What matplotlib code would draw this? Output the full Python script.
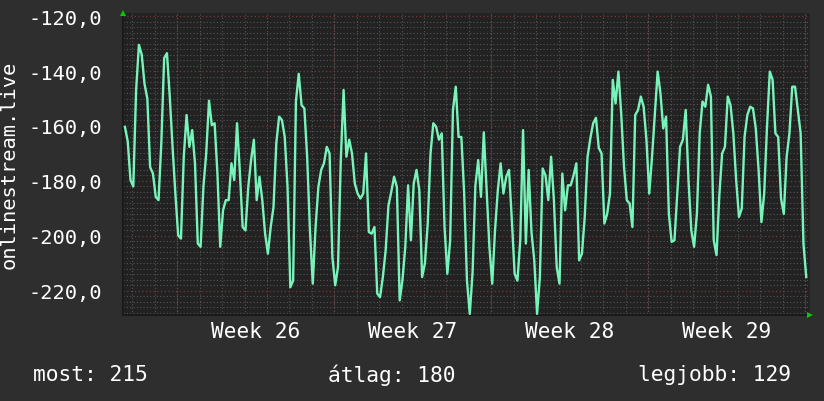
import numpy as np
import matplotlib
matplotlib.use("Agg")
import matplotlib.pyplot as plt
from matplotlib.ticker import MultipleLocator, FixedLocator

# samples every 3 hours, hours counted from the start of week 26
start_hour = -56
step_hours = 3
values = [
    -160.3, -165.5, -179.7, -182.0, -147.0, -130.5, -134.0, -144.7, -150.0, -175.0,
    -177.3, -185.8, -187.0, -166.0, -135.3, -133.5, -149.3, -167.6, -184.6, -199.8,
    -201.0, -171.2, -156.0, -167.6, -161.5, -173.6, -202.8, -204.0, -182.2, -170.0,
    -150.8, -159.7, -159.0, -177.3, -204.0, -190.7, -187.0, -187.0, -173.6, -179.7,
    -159.0, -176.7, -196.8, -198.0, -182.2, -172.4, -165.0, -187.0, -178.5, -187.0,
    -199.2, -206.5, -196.8, -189.5, -166.3, -156.6, -157.8, -163.9, -182.2, -218.7,
    -216.3, -151.0, -141.0, -152.4, -153.6, -171.2, -198.0, -217.4, -196.8, -182.2,
    -176.0, -173.6, -167.6, -170.0, -207.7, -218.0, -211.4, -172.4, -146.9, -171.2,
    -165.0, -170.0, -181.0, -184.6, -186.4, -184.6, -170.0, -198.6, -199.2, -196.8,
    -221.0, -222.3, -215.0, -205.3, -188.9, -184.0, -178.5, -182.2, -223.5, -216.0,
    -204.0, -181.6, -201.6, -181.0, -176.0, -183.4, -215.0, -210.0, -195.5, -170.0,
    -159.0, -160.3, -165.0, -162.7, -196.8, -213.8, -201.6, -154.2, -145.7, -164.0,
    -164.0, -184.6, -216.3, -228.4, -213.2, -181.7, -172.4, -185.8, -162.3, -182.8,
    -204.0, -217.4, -198.0, -183.4, -173.6, -184.6, -178.5, -176.0, -194.3, -213.8,
    -216.3, -201.6, -161.5, -202.8, -176.0, -198.6, -208.9, -228.4, -215.0, -175.5,
    -178.0, -187.0, -171.2, -187.0, -211.4, -217.4, -177.3, -190.7, -181.6, -181.6,
    -178.0, -173.6, -208.9, -206.5, -193.1, -171.2, -164.5, -159.0, -157.0, -168.0,
    -170.0, -195.5, -192.0, -184.6, -143.2, -151.8, -140.2, -155.4, -174.9, -187.0,
    -188.2, -196.8, -156.0, -154.2, -149.3, -153.0, -165.0, -184.6, -171.2, -155.4,
    -140.2, -148.1, -160.9, -156.6, -192.0, -202.2, -201.6, -184.6, -167.6, -165.0,
    -154.2, -179.7, -198.0, -204.0, -192.0, -162.6, -151.1, -153.0, -145.0, -149.3,
    -201.6, -207.0, -185.2, -170.0, -167.6, -149.3, -152.4, -162.7, -179.7, -193.1,
    -190.1, -163.9, -156.0, -153.0, -153.6, -160.9, -176.0, -195.0, -184.6, -160.3,
    -140.2, -143.2, -162.7, -164.0, -186.4, -192.0, -171.2, -162.7, -145.7, -145.7,
    -154.2, -162.7, -202.8, -215.0,
]
hours = start_hour + step_hours * np.arange(len(values))

week_starts = [0, 168, 336, 504, 672]
week_labels = ["Week 26", "Week 27", "Week 28", "Week 29"]
week_label_pos = [84, 252, 420, 588]
y_ticks = [-120, -140, -160, -180, -200, -220]

series_name = "onlinestream.live"
summary = [("most: 215", 0.040, "left"), ("átlag: 180", 0.476, "center"),
           ("legjobb: 129", 0.960, "right")]

BG = "#2e2e2e"
CANVAS = "#222222"
LINE = "#78f4bb"
MINOR = "#555555"
MAJOR = "#743838"
FONT = "DejaVu Sans Mono"

fig = plt.figure(figsize=(8.24, 4.02), dpi=100, facecolor=BG)
ax = fig.add_axes([0.1493, 0.214, 0.8337, 0.751])
ax.set_facecolor(CANVAS)

ax.set_xlim(-58, 677)
ax.set_ylim(-228.8, -118.9)

# grid
ax.yaxis.set_major_locator(FixedLocator(y_ticks))
ax.yaxis.set_minor_locator(MultipleLocator(2))
ax.xaxis.set_minor_locator(MultipleLocator(24))
ax.xaxis.set_major_locator(FixedLocator(week_label_pos))
ax.grid(which="minor", axis="both", color=MINOR, linestyle=(0, (1, 2)), linewidth=0.8)
ax.grid(which="major", axis="y", color=MAJOR, linestyle=(0, (1, 2)), linewidth=0.9)
for w in week_starts:
    ax.axvline(w, color=MAJOR, linestyle=(0, (1, 2)), linewidth=0.9, zorder=1)

ax.plot(hours, values, color=LINE, linewidth=1.7, zorder=3)

ax.set_yticklabels([f"{v:.1f}".replace(".", ",") for v in y_ticks])
ax.set_xticklabels(week_labels)
ax.tick_params(which="both", length=0, colors="white", labelsize=14.7)
ax.tick_params(axis="y", pad=15)
ax.tick_params(axis="x", pad=4, labelsize=15.2)
for lab in ax.get_xticklabels() + ax.get_yticklabels():
    lab.set_fontfamily(FONT)

ax.set_ylabel(series_name, color="white", fontsize=14.7, family=FONT, labelpad=7)

for side in ["top", "right"]:
    ax.spines[side].set_visible(False)
ax.spines["left"].set_color("#1a1a1a")
ax.spines["bottom"].set_color("#1a1a1a")
ax.spines["left"].set_linewidth(1.5)
ax.spines["bottom"].set_linewidth(1.5)

# axis arrows
ax.plot([0.0], [1.0], marker="^", color="#00cc00", markersize=5,
        transform=ax.transAxes, clip_on=False, zorder=5, markeredgewidth=0)
ax.plot([1.0], [0.0], marker=">", color="#00cc00", markersize=5,
        transform=ax.transAxes, clip_on=False, zorder=5, markeredgewidth=0)

for text, xpos, ha in summary:
    fig.text(xpos, 0.067, text, color="white", fontsize=15.3, family=FONT,
             ha=ha, va="center")

fig.savefig("out.png", dpi=100, facecolor=BG)
